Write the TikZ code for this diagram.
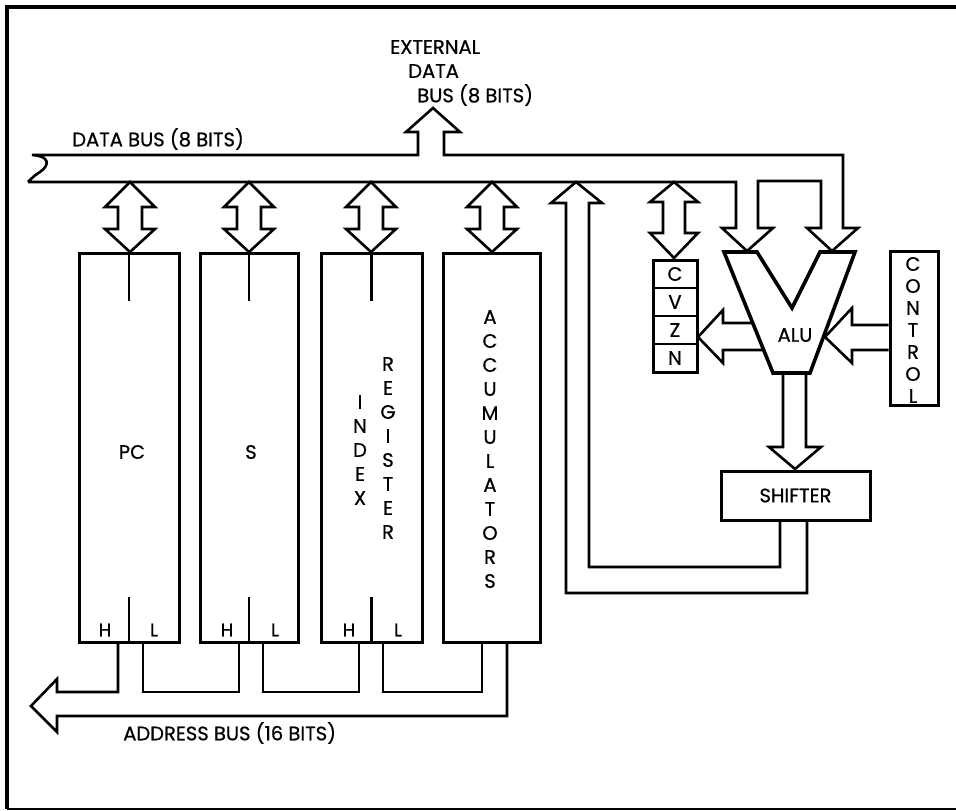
\documentclass[tikz,border=0pt]{standalone}
\usepackage{fontspec}
\setmainfont{Poppins}[FakeBold=0.7]
\begin{document}
\begin{tikzpicture}[x=1pt,y=-1pt,line width=2.6pt,line join=miter,
  lbl/.style={font=\fontsize{19.5}{22}\selectfont,inner sep=0pt},
  sml/.style={font=\fontsize{18}{20}\selectfont,inner sep=0pt},
  regbox/.style={draw,rectangle,inner sep=0pt,line width=3pt},
  divider/.style={line width=2.2pt},
  bidir/.pic={\draw (0,0) -- (-25,25) -- (-12,25) -- (-12,47) -- (-25,47) -- (0,70)
     -- (25,47) -- (12,47) -- (12,25) -- (25,25) -- cycle;}]
\useasboundingbox (0,0) rectangle (956,811);
% frame
\draw[line width=3.5pt] (7,809) -- (7,7) -- (956,7);
\draw[line width=2pt] (7,809) -- (956,809);

% texts of the data buses
\node[lbl,anchor=west] (ext1) at (389,47) {EXTERNAL};
\node[lbl,anchor=west] (ext2) at (407,71) {DATA};
\node[lbl,anchor=west] (ext3) at (416,95) {BUS (8 BITS)};
\node[lbl,anchor=west] (dbus) at (71,139) {DATA BUS (8 BITS)};

% data bus with external bus and the two ALU inputs
\draw (28,182) -- (736,182) -- (736,228) -- (722,228) -- (747,251) -- (773,228)
  -- (758,228) -- (758,181) -- (821,181) -- (821,228) -- (807,228) -- (832,251)
  -- (858,228) -- (843,228) -- (843,155) -- (444,155) -- (444,132) -- (460,132)
  -- (433,108) -- (406,132) -- (418,132) -- (418,155) -- (32,155)
  .. controls (50,156) and (50,165) .. (40,172) .. controls (34,176) .. (28,182);

% registers
\node[regbox,minimum width=100pt,minimum height=389pt] (pc)  at (129,447.5) {};
\node[regbox,minimum width=98pt,minimum height=389pt]  (sp)  at (249,447.5) {};
\node[regbox,minimum width=101pt,minimum height=389pt] (ix)  at (371.5,447.5) {};
\node[regbox,minimum width=97pt,minimum height=389pt]  (acc) at (491.5,447.5) {};

\foreach \c in {130,249,371,492} \pic at (\c,182) {bidir};

\draw[divider] (pc.north) -- ++(0,49);
\draw[divider] (sp.north) -- ++(0,49);
\draw[divider] (ix.north) -- ++(0,49);
\draw[divider] (pc.south) -- ++(0,-47);
\draw[divider] (sp.south) -- ++(0,-47);
\draw[divider] (ix.south) -- ++(0,-47);

\node[lbl] (pct) at (132,452) {PC};
\node[lbl] (spt) at (251,452) {S};
\node[sml] (pch) at (105,630) {H};
\node[sml] (pcl) at (154,630) {L};
\node[sml] (sph) at (227,630) {H};
\node[sml] (spl) at (275,630) {L};
\node[sml] (ixh) at (349,630) {H};
\node[sml] (ixl) at (398,630) {L};

\foreach \ch [count=\i from 0] in {I,N,D,E,X}
  \node[lbl] (idx\i) at (360,402+24*\i) {\ch};
\foreach \ch [count=\i from 0] in {R,E,G,I,S,T,E,R}
  \node[lbl] (reg\i) at (388,364+24*\i) {\ch};
\foreach \ch [count=\i from 0] in {A,C,C,U,M,U,L,A,T,O,R,S}
  \node[lbl] (acc\i) at (490,317+24*\i) {\ch};

% address bus
\draw (118,642) -- (118,692) -- (57,692) -- (57,679) -- (31,706) -- (57,732)
  -- (57,716) -- (507,716) -- (507,642);
\draw (143,642) -- (143,692) -- (239,692) -- (239,642);
\draw (263,642) -- (263,692) -- (359,692) -- (359,642);
\draw (383,642) -- (383,692) -- (482,692) -- (482,642);
\node[lbl,anchor=west] (abus) at (122,733) {ADDRESS BUS (16 BITS)};

% feedback from shifter
\draw (807,520) -- (807,593) -- (566,593) -- (566,203) -- (551,203) -- (576,182)
  -- (602,203) -- (589,203) -- (589,567) -- (780,567) -- (780,520);

% flags
\draw (674,182) -- (650,202) -- (663,202) -- (663,233) -- (650,233) -- (674,258)
  -- (698,233) -- (685,233) -- (685,202) -- (698,202) -- cycle;
\node[regbox,minimum width=44pt,minimum height=112pt] (flags) at (675,316) {};
\draw[divider] (653,288) -- (697,288);
\draw[divider] (653,316) -- (697,316);
\draw[divider] (653,344) -- (697,344);
\node[lbl] (fc) at (675,274) {C};
\node[lbl] (fv) at (675,302) {V};
\node[lbl] (fz) at (675,330) {Z};
\node[lbl] (fn) at (675,358) {N};

% ALU
\draw[line width=3.6pt] (724,252) -- (757,252) -- (792,308) -- (820,252) -- (855,252)
  -- (810,373) -- (773,373) -- cycle;
\node[lbl] (alu) at (795,335) {ALU};
\draw (753,323) -- (723,323) -- (723,310) -- (698,337) -- (723,363) -- (723,350) -- (763,350);

% control
\node[regbox,minimum width=48pt,minimum height=154pt] (ctl) at (914,328) {};
\foreach \ch [count=\i from 0] in {C,O,N,T,R,O,L}
  \node[lbl] (ctl\i) at (913,264+22*\i) {\ch};
\draw (ctl.west |- 0,325) -- (852,325) -- (852,308) -- (825,337) -- (852,363) -- (852,350)
  -- (ctl.west |- 0,350);

% shifter
\node[regbox,minimum width=149pt,minimum height=49pt] (shf) at (795.5,495.5) {};
\node[lbl] (shft) at (shf.center) {SHIFTER};
\draw (783,373) -- (783,447) -- (769,447) -- (795,469) -- (821,447) -- (806,447) -- (806,373);
\end{tikzpicture}
\end{document}
